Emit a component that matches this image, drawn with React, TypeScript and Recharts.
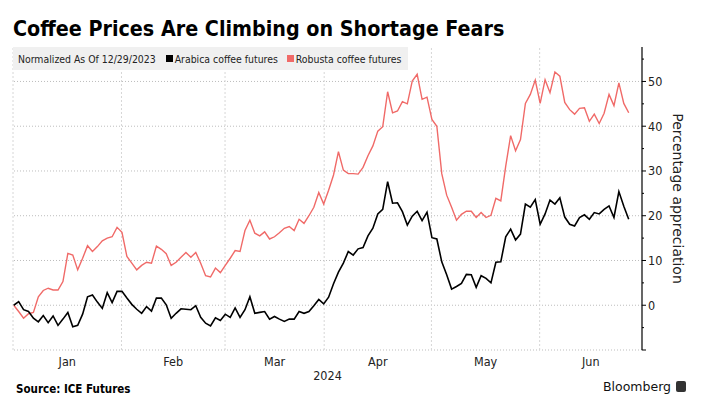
import { LineChart, Line, XAxis, YAxis, ReferenceLine } from 'recharts'

// Percent change since 12/29/2023, one value per trading day
const ARABICA = [
    0, 0.8, -1.0, -1.4, -2.9, -3.7, -2.3, -3.9, -2.4, -4.5, -3.1, -1.6, -4.8, -4.5, -2.0, 1.9, 2.3, 0.7, -0.7, 2.8, 0.6, 3.1, 3.1, 1.6,
    0.2, -0.9, -1.8, -0.3, -1.3, 1.6, 1.6, 0.1, -2.9, -1.8, -0.8, -0.9, -1.0, -0.1, -2.7, -4.0, -4.6, -2.8, -3.4, -2.0, -2.7, -0.6,
    -2.7, -1.0, 1.9, -1.8, -1.6, -1.4, -3.1, -2.5, -3.1, -3.6, -3.1, -3.1, -1.4, -1.8, -1.4, -0.1, 1.3, 0.3, 1.8,
    4.8, 7.4, 9.4, 12.0, 11.2, 12.6, 12.9, 15.5, 17.2, 20.4, 21.4, 27.6, 22.8, 22.9, 20.9, 17.9, 19.9, 21.0, 18.9, 20.8, 15.1, 14.8,
    9.7, 6.8, 3.6, 4.2, 4.9, 6.9, 6.8, 4.0, 6.6, 6.0, 5.0, 9.6, 9.7, 15.3, 17.0, 14.6, 15.9, 22.6, 21.9, 23.6,
    18.1, 20.4, 23.5, 22.6, 24.0, 19.7, 18.1, 17.7, 19.6, 20.2, 19.2, 20.7, 20.4, 21.4, 22.2, 19.6, 25.4, 22.1, 19.2,
]

const ROBUSTA = [
    0, -1.4, -2.9, -1.9, -1.6, 1.9, 3.3, 3.8, 3.4, 3.4, 5.3, 11.6, 11.2, 7.9, 10.5, 13.3, 12.0, 13.1, 14.4, 15.0, 15.3, 17.4, 16.3, 10.9,
    9.4, 7.9, 8.9, 9.6, 9.4, 13.2, 12.5, 11.5, 8.9, 9.6, 10.7, 11.8, 10.7, 11.8, 9.4, 6.6, 6.3, 8.3, 7.3, 8.9, 10.5, 12.2,
    12.0, 16.7, 19.0, 16.1, 15.5, 16.4, 14.8, 15.3, 16.2, 17.2, 17.6, 16.7, 19.2, 18.3, 20.0, 21.9, 25.2, 22.6, 25.7,
    29.1, 34.3, 30.2, 29.4, 29.4, 29.3, 30.8, 33.4, 35.6, 38.9, 39.9, 47.7, 43.0, 43.4, 45.5, 45.0, 50.1, 51.6, 46.0, 46.5, 41.5, 40.0,
    29.4, 24.6, 21.9, 19.0, 20.3, 21.0, 21.0, 19.6, 20.7, 19.6, 20.1, 23.9, 23.3, 31.1, 37.9, 34.5, 37.0, 45.1, 47.1, 50.3,
    45.1, 50.4, 47.5, 52.1, 51.2, 45.3, 43.7, 42.7, 44.0, 44.1, 41.1, 42.7, 40.6, 42.9, 47.1, 44.6, 49.7, 45.1, 43.0,
]

const MONTHS = ['Jan', 'Feb', 'Mar', 'Apr', 'May', 'Jun']
// month boundaries on the trading-day scale
const MONTH_STARTS = [21.9, 42.95, 63.1, 84.9, 106.9]
const X_DOMAIN: [number, number] = [-0.15, 127.7]
const Y_DOMAIN: [number, number] = [-10, 57.7]
const Y_GRID = [-10, 0, 10, 20, 30, 40, 50]
const Y_TICKS = [-10, -5, 0, 5, 10, 15, 20, 25, 30, 35, 40, 45, 50, 55]

const ARABICA_COLOR = '#000000'
const ROBUSTA_COLOR = '#f06a68'
const COND = '"DejaVu Sans Condensed", "DejaVu Sans", sans-serif'

const data = ARABICA.map((v, i) => ({ i, arabica: v, robusta: ROBUSTA[i] }))

const bounds = [X_DOMAIN[0], ...MONTH_STARTS, X_DOMAIN[1]]
const monthMids = MONTHS.map((_, k) => (bounds[k] + bounds[k + 1]) / 2)

const YTick = (props: any) => {
    const { x, y, payload } = props
    const v = Number(payload.value)
    const major = Math.abs(v % 10) === 0
    return (
        <g>
            <line x1={x} x2={x + (major ? 4 : 2)} y1={y} y2={y} stroke="#000" strokeWidth={1} />
            {major && v >= 0 && (
                <text x={x + 6} y={y} dy="0.35em" fontSize={12.5} fontFamily={COND} fill="#222">
                    {v}
                </text>
            )}
        </g>
    )
}

const square = (color: string, ml: number) => (
    <span style={{ display: 'inline-block', flexShrink: 0, width: 7, height: 7, background: color, marginLeft: ml, marginRight: 2 }} />
)

export default function App() {
    return (
        <div style={{ position: 'absolute', left: 0, top: 0, width: 711, height: 413, background: '#fff' }}>
            <div style={{ position: 'absolute', left: 13, top: 16, fontFamily: COND, fontWeight: 'bold', fontSize: 21.3, color: '#000', whiteSpace: 'nowrap' }}>
                Coffee Prices Are Climbing on Shortage Fears
            </div>
            <LineChart width={711} height={413} data={data} margin={{ top: 47, right: 9, bottom: 31, left: 13 }}>
                {Y_GRID.map(v => (
                    <ReferenceLine key={`h${v}`} y={v} stroke="#bdbdbd" strokeDasharray="1 2" />
                ))}
                <ReferenceLine x={X_DOMAIN[0]} stroke="#d6d6d6" strokeDasharray="2 2" />
                {MONTH_STARTS.map(v => (
                    <ReferenceLine key={`v${v}`} x={v} stroke="#d6d6d6" strokeDasharray="2 2" />
                ))}
                <XAxis
                    type="number"
                    dataKey="i"
                    domain={X_DOMAIN}
                    ticks={monthMids}
                    interval={0}
                    tickFormatter={(v: number) => MONTHS[monthMids.indexOf(v)]}
                    axisLine={false}
                    tickLine={false}
                    tickSize={0}
                    tickMargin={7}
                    tick={{ fontSize: 12.5, fontFamily: COND, fill: '#222' }}
                    height={32}
                    label={{ value: '2024', position: 'insideBottom', offset: 2, fontSize: 12.5, fontFamily: COND, fill: '#222' }}
                />
                <YAxis
                    orientation="right"
                    domain={Y_DOMAIN}
                    ticks={Y_TICKS}
                    interval={0}
                    allowDataOverflow
                    width={60}
                    axisLine={{ stroke: '#000', strokeWidth: 1.2 }}
                    tickLine={false}
                    tickSize={0}
                    tickMargin={0}
                    tick={YTick}
                    label={{ value: 'Percentage appreciation', angle: 90, position: 'center', dx: 6, fontSize: 14, fontFamily: '"DejaVu Sans", sans-serif', fill: '#222' }}
                />
                <Line type="linear" dataKey="robusta" stroke={ROBUSTA_COLOR} strokeWidth={1.4} dot={false} isAnimationActive={false} />
                <Line type="linear" dataKey="arabica" stroke={ARABICA_COLOR} strokeWidth={1.6} dot={false} isAnimationActive={false} />
            </LineChart>
            <div style={{ position: 'absolute', left: 13, top: 47, width: 395, height: 23, background: '#f0f0f0', display: 'flex', alignItems: 'center', fontFamily: COND, fontSize: 10.4, color: '#222', whiteSpace: 'nowrap' }}>
                <span style={{ marginLeft: 5 }}>Normalized As Of 12/29/2023</span>
                {square(ARABICA_COLOR, 10)}
                <span>Arabica coffee futures</span>
                {square(ROBUSTA_COLOR, 9)}
                <span>Robusta coffee futures</span>
            </div>
            <div style={{ position: 'absolute', left: 16, top: 382, fontFamily: COND, fontWeight: 'bold', fontSize: 11.5, color: '#000' }}>
                Source: ICE Futures
            </div>
            <div style={{ position: 'absolute', left: 603, top: 379, fontFamily: '"DejaVu Sans", sans-serif', fontSize: 12.5, color: '#111', display: 'flex', alignItems: 'center' }}>
                <span>Bloomberg</span>
                <span style={{ display: 'inline-block', width: 10, height: 11, background: '#333', borderRadius: 2, marginLeft: 5 }} />
            </div>
        </div>
    )
}
